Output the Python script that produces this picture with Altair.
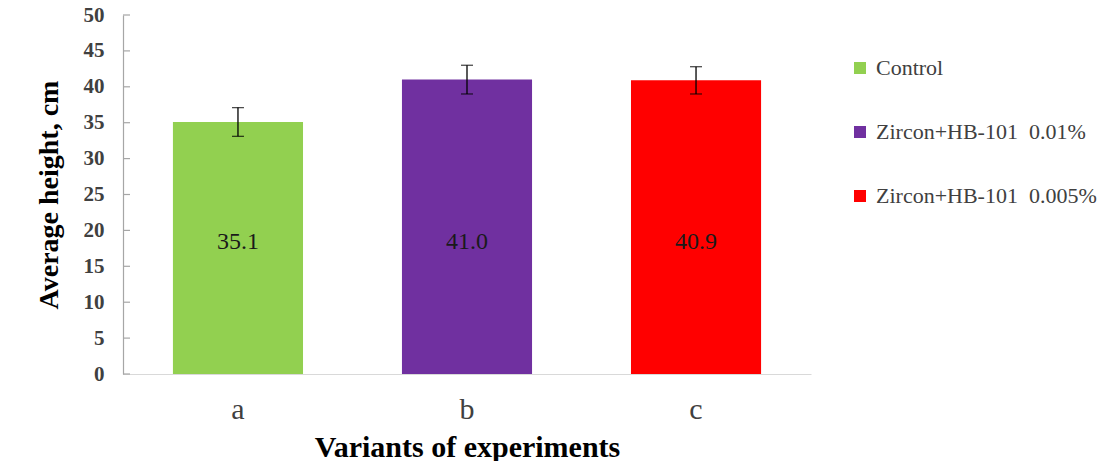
import altair as alt
import pandas as pd

variants = ["a", "b", "c"]
treatments = ["Control", "Zircon+HB-101\u00a0 0.01%", "Zircon+HB-101\u00a0 0.005%"]
heights = [35.1, 41.0, 40.9]
errors = [2.0, 2.0, 1.9]
colors = ["#92D050", "#7030A0", "#FF0000"]
y_ticks = [0.0, 5.0, 10.0, 15.0, 20.0, 25.0, 30.0, 35.0, 40.0, 45.0, 50.0]

FONT = "Liberation Serif"
LABEL_Y = 18.4  # value labels sit at one common height inside the bars

df = pd.DataFrame({"variant": variants, "treatment": treatments,
                   "height": heights, "err": errors})
df["low"] = df["height"] - df["err"]
df["high"] = df["height"] + df["err"]
df["label"] = df["height"].map(lambda v: f"{v:.1f}")
ticks_df = pd.DataFrame({"t": y_ticks})

x_enc = alt.X("variant:N", sort=variants, title="Variants of experiments",
              scale=alt.Scale(paddingInner=0.432, paddingOuter=0.218),
              axis=alt.Axis(labelAngle=0, labelFont=FONT, labelFontSize=30,
                            labelColor="#404040", labelPadding=20, ticks=False,
                            domainColor="#D9D9D9", domainWidth=1.2,
                            titleFont=FONT, titleFontSize=30, titleFontWeight="bold",
                            titleColor="#000000", titlePadding=8))
y_scale = alt.Scale(domain=[0, 50], nice=False)
y_axis = alt.Axis(values=y_ticks, tickCount=11, grid=False, ticks=False,
                  labelOverlap=False, labelSeparation=0, labelBound=False,
                  labelFlush=False, format="d",
                  labelFont=FONT, labelFontSize=21, labelFontWeight="bold",
                  labelColor="#404040", labelPadding=19,
                  domainColor="#A6A6A6", domainWidth=1.2,
                  titleFont=FONT, titleFontSize=28, titleFontWeight="bold",
                  titleColor="#000000", titlePadding=20)
Y_TITLE = "Average height, cm"

base = alt.Chart(df)

bars = base.mark_bar().encode(
    x=x_enc,
    y=alt.Y("height:Q", scale=y_scale, title=Y_TITLE, axis=y_axis),
    color=alt.Color("treatment:N", sort=treatments, title=None,
                    scale=alt.Scale(domain=treatments, range=colors),
                    legend=alt.Legend(orient="none", legendX=726, legendY=42,
                                      padding=0, symbolType="square", symbolSize=144,
                                      symbolStrokeWidth=0, labelFont=FONT,
                                      labelFontSize=22, labelColor="#404040",
                                      labelOffset=5, rowPadding=42,
                                      labelLimit=300)),
)

text = base.mark_text(font=FONT, fontSize=24, color="#1a1a1a").encode(
    x=alt.X("variant:N", sort=variants),
    y=alt.datum(LABEL_Y),
    text="label:N",
)

rules = base.mark_rule(color="#000000", strokeWidth=1.3).encode(
    x=alt.X("variant:N", sort=variants),
    y="low:Q",
    y2="high:Q",
)

caps_low = base.mark_tick(color="#000000", size=12, thickness=1.3).encode(
    x=alt.X("variant:N", sort=variants), y="low:Q")
caps_high = base.mark_tick(color="#000000", size=12, thickness=1.3).encode(
    x=alt.X("variant:N", sort=variants), y="high:Q")

# inward tick marks on the y axis, as in the original
axis_ticks = alt.Chart(ticks_df).mark_rule(color="#A6A6A6", strokeWidth=1.2).encode(
    y=alt.Y("t:Q", scale=y_scale, title=Y_TITLE, axis=y_axis),
    x=alt.value(0),
    x2=alt.value(7),
)

chart = alt.layer(bars, text, rules, caps_low, caps_high, axis_ticks).properties(
    width=688,
    height=359,
    autosize="none",
    padding={"left": 115, "top": 7, "right": 294, "bottom": 87},
).configure_view(stroke=None).configure_axis(labelOverlap=False)

chart.save("out.html", embed_options={"renderer": "svg", "actions": False})
